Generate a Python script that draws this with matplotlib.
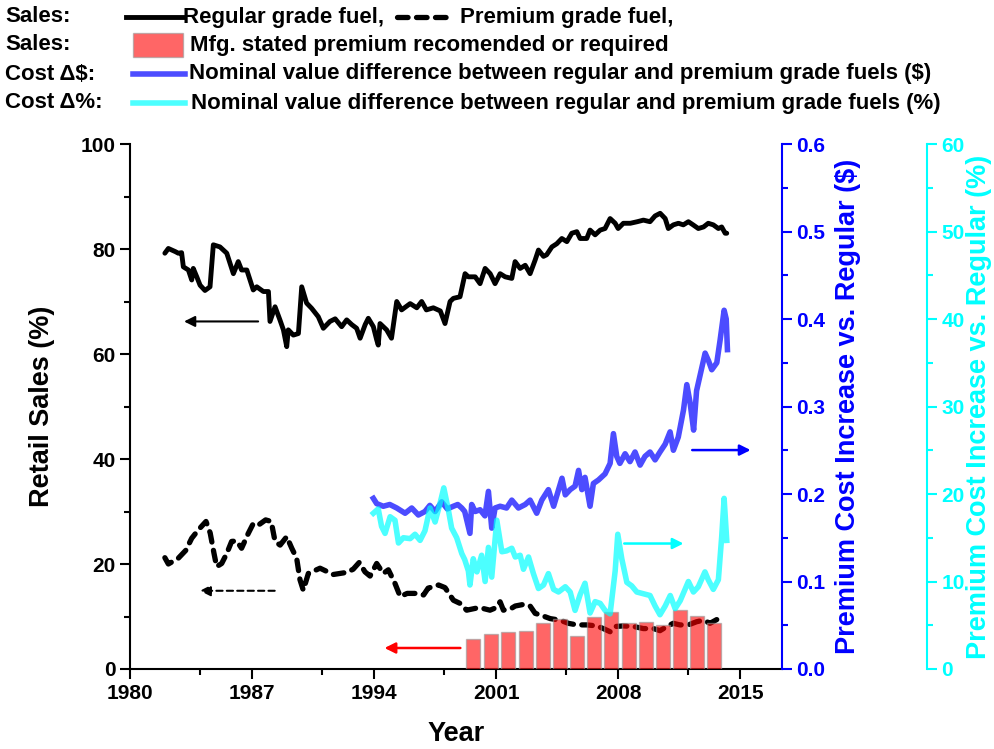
import matplotlib
matplotlib.use("Agg")
import matplotlib.pyplot as plt
from matplotlib.lines import Line2D
from matplotlib.patches import Rectangle

plt.rcParams['font.family'] = ['Liberation Sans', 'DejaVu Sans']
plt.rcParams['font.weight'] = 'bold'

# ---------------- data ----------------
regular_sales = [
    (1982.0, 79.2), (1982.2, 80.1), (1982.6, 79.5), (1982.77, 79.2), (1982.96, 79.3),
    (1983.06, 76.6), (1983.35, 76.0), (1983.54, 74.1), (1983.63, 76.3), (1983.83, 74.7),
    (1984.02, 73.1), (1984.3, 72.1), (1984.59, 72.8), (1984.78, 80.8), (1985.16, 80.4),
    (1985.55, 79.2), (1985.93, 75.3), (1986.21, 77.6), (1986.4, 76.0), (1986.7, 76.0),
    (1987.07, 72.2), (1987.27, 72.8), (1987.65, 71.9), (1987.94, 71.9), (1988.03, 66.2),
    (1988.32, 69.0), (1988.6, 66.5), (1988.8, 64.6), (1988.99, 61.4), (1989.08, 64.6),
    (1989.37, 63.6), (1989.66, 63.9), (1989.85, 72.8), (1990.13, 69.7), (1990.42, 68.7),
    (1990.8, 67.1), (1991.09, 64.9), (1991.47, 66.2), (1991.77, 66.7), (1992.14, 65.2),
    (1992.43, 66.5), (1992.72, 65.6), (1993.0, 64.9), (1993.2, 63.0), (1993.49, 65.6),
    (1993.67, 66.8), (1993.96, 65.2), (1994.15, 62.7), (1994.24, 61.7), (1994.34, 65.8),
    (1994.72, 64.6), (1995.0, 63.0), (1995.3, 70.0), (1995.58, 68.4), (1996.07, 69.6),
    (1996.45, 68.8), (1996.73, 70.0), (1997.0, 68.4), (1997.4, 68.8), (1997.8, 68.2),
    (1998.07, 65.8), (1998.36, 70.0), (1998.55, 70.6), (1998.93, 70.9), (1999.22, 75.3),
    (1999.41, 74.7), (1999.8, 74.7), (2000.08, 73.4), (2000.37, 76.3), (2000.66, 75.3),
    (2000.94, 73.4), (2001.23, 75.3), (2001.52, 74.7), (2001.9, 74.4), (2002.09, 77.6),
    (2002.38, 76.3), (2002.67, 76.9), (2002.95, 75.3), (2003.24, 77.9), (2003.43, 79.8),
    (2003.72, 78.6), (2003.9, 78.9), (2004.2, 80.4), (2004.48, 81.0), (2004.77, 82.0),
    (2005.06, 81.4), (2005.34, 83.0), (2005.63, 83.3), (2005.82, 82.0), (2006.2, 82.0),
    (2006.39, 83.6), (2006.68, 82.7), (2006.97, 83.6), (2007.25, 83.9), (2007.54, 85.8),
    (2007.83, 84.9), (2008.0, 83.9), (2008.3, 84.9), (2008.7, 84.9), (2009.1, 85.2),
    (2009.45, 85.5), (2009.83, 85.2), (2010.12, 86.3), (2010.41, 86.8), (2010.7, 85.8),
    (2010.88, 83.9), (2011.17, 84.6), (2011.46, 84.9), (2011.74, 84.6), (2012.03, 85.2),
    (2012.3, 84.6), (2012.6, 83.9), (2012.9, 84.2), (2013.17, 84.9), (2013.46, 84.6),
    (2013.75, 83.9), (2013.94, 84.2), (2014.14, 83.0), (2014.23, 83.0),
]

premium_sales = [
    (1982.0, 21.2), (1982.2, 20.0), (1982.77, 21.1), (1983.2, 22.6), (1983.54, 24.9),
    (1983.92, 26.5), (1984.36, 28.1), (1984.6, 25.9), (1984.82, 22.0), (1984.97, 19.5),
    (1985.26, 20.1), (1985.55, 22.0), (1985.83, 24.3), (1986.12, 24.4), (1986.4, 23.0),
    (1986.78, 25.8), (1987.07, 27.7), (1987.36, 27.4), (1987.78, 28.4), (1988.1, 28.1),
    (1988.32, 24.3), (1988.61, 23.6), (1988.99, 25.2), (1989.28, 23.0), (1989.56, 21.1),
    (1989.75, 17.0), (1989.94, 15.0), (1990.23, 18.2), (1990.9, 19.2), (1991.66, 18.0),
    (1992.43, 18.4), (1992.8, 19.0), (1993.15, 20.3), (1993.48, 18.5), (1993.77, 17.7),
    (1994.15, 20.1), (1994.53, 18.2), (1994.82, 18.9), (1995.2, 16.3), (1995.5, 13.8),
    (1995.9, 14.4), (1996.35, 14.4), (1996.84, 14.1), (1997.1, 15.4), (1997.7, 16.0),
    (1998.07, 15.5), (1998.55, 13.1), (1998.93, 12.5), (1999.31, 11.2), (1999.88, 11.6),
    (2000.17, 11.6), (2000.65, 11.2), (2000.94, 11.6), (2001.23, 12.8), (2001.42, 11.2),
    (2001.9, 11.6), (2002.1, 12.0), (2002.57, 12.3), (2002.95, 12.0), (2003.24, 10.6),
    (2003.53, 10.3), (2004.1, 9.6), (2004.67, 9.3), (2005.15, 8.7), (2005.63, 8.4),
    (2006.2, 8.4), (2006.78, 8.2), (2007.15, 7.7), (2007.54, 7.1), (2007.83, 8.1),
    (2008.3, 8.2), (2008.88, 8.1), (2009.45, 7.7), (2010.03, 7.7), (2010.4, 7.3),
    (2010.8, 8.1), (2011.16, 8.7), (2011.55, 8.4), (2012.03, 8.4), (2012.5, 9.0),
    (2012.9, 9.3), (2013.27, 8.7), (2013.65, 9.4), (2013.94, 9.8),
]

bar_years = [1999.7, 2000.7, 2001.7, 2002.7, 2003.7, 2004.65, 2005.65, 2006.6,
             2007.6, 2008.6, 2009.6, 2010.55, 2011.55, 2012.55, 2013.5]
bar_values = [5.8, 6.7, 7.1, 7.2, 8.8, 9.6, 6.2, 10.0, 10.8, 8.7, 8.9, 8.4, 11.3, 10.1, 8.8]

cost_diff_dollar = [
    (1993.96, 0.195), (1994.15, 0.189), (1994.53, 0.186), (1994.9, 0.188), (1995.3, 0.184),
    (1995.78, 0.178), (1996.16, 0.184), (1996.54, 0.176), (1996.92, 0.180), (1997.2, 0.187),
    (1997.5, 0.180), (1997.88, 0.191), (1998.2, 0.183), (1998.55, 0.186), (1998.8, 0.188),
    (1999.03, 0.184), (1999.2, 0.180), (1999.5, 0.155), (1999.6, 0.188), (1999.8, 0.180),
    (2000.08, 0.182), (2000.36, 0.175), (2000.56, 0.203), (2000.75, 0.161), (2000.94, 0.184),
    (2001.23, 0.186), (2001.6, 0.184), (2001.9, 0.193), (2002.28, 0.184), (2002.67, 0.188),
    (2002.95, 0.193), (2003.33, 0.178), (2003.62, 0.193), (2004.0, 0.205), (2004.3, 0.186),
    (2004.78, 0.218), (2004.97, 0.199), (2005.25, 0.205), (2005.53, 0.209), (2005.73, 0.227),
    (2005.92, 0.205), (2006.1, 0.219), (2006.39, 0.186), (2006.58, 0.212), (2006.87, 0.216),
    (2007.25, 0.223), (2007.54, 0.235), (2007.73, 0.269), (2007.92, 0.243), (2008.1, 0.235),
    (2008.4, 0.246), (2008.68, 0.237), (2008.97, 0.248), (2009.26, 0.233), (2009.54, 0.243),
    (2009.83, 0.248), (2010.12, 0.239), (2010.4, 0.248), (2010.7, 0.257), (2010.98, 0.271),
    (2011.17, 0.250), (2011.45, 0.265), (2011.75, 0.296), (2011.94, 0.325), (2012.13, 0.304),
    (2012.33, 0.273), (2012.5, 0.318), (2012.99, 0.361), (2013.19, 0.352), (2013.37, 0.342),
    (2013.66, 0.350), (2013.85, 0.376), (2014.08, 0.410), (2014.2, 0.400), (2014.27, 0.365),
]

cost_diff_pct = [
    (1993.96, 17.8), (1994.24, 18.3), (1994.43, 16.3), (1994.63, 15.5), (1994.92, 17.4),
    (1995.2, 17.0), (1995.4, 14.4), (1995.68, 15.0), (1996.07, 14.9), (1996.35, 15.4),
    (1996.64, 14.7), (1996.92, 15.8), (1997.21, 18.4), (1997.5, 16.8), (1997.78, 18.9),
    (1998.0, 20.7), (1998.26, 18.2), (1998.45, 16.1), (1998.74, 15.0), (1999.03, 13.2),
    (1999.2, 12.5), (1999.41, 11.2), (1999.5, 9.6), (1999.69, 12.6), (1999.9, 11.1),
    (2000.17, 13.0), (2000.37, 10.0), (2000.56, 13.9), (2000.75, 10.5), (2001.04, 17.0),
    (2001.33, 13.4), (2001.6, 13.5), (2001.9, 13.8), (2002.1, 12.8), (2002.38, 13.0),
    (2002.57, 11.4), (2002.86, 12.8), (2003.14, 10.9), (2003.43, 9.2), (2003.72, 9.6),
    (2004.0, 10.9), (2004.3, 9.1), (2004.58, 8.8), (2004.97, 9.4), (2005.25, 8.8),
    (2005.53, 6.7), (2005.82, 8.5), (2006.1, 9.8), (2006.39, 6.4), (2006.68, 7.7),
    (2006.97, 7.5), (2007.25, 6.7), (2007.54, 6.3), (2007.83, 11.2), (2007.98, 15.4),
    (2008.21, 12.6), (2008.5, 9.9), (2008.78, 9.5), (2009.07, 8.8), (2009.45, 8.6),
    (2009.83, 8.4), (2010.12, 7.2), (2010.4, 6.2), (2010.7, 7.2), (2010.99, 8.4),
    (2011.27, 6.9), (2011.56, 7.8), (2012.03, 10.0), (2012.32, 8.8), (2012.6, 9.4),
    (2012.98, 11.1), (2013.17, 10.2), (2013.46, 9.1), (2013.75, 10.2), (2013.94, 15.1),
    (2014.08, 19.5), (2014.23, 14.7),
]

x_ticks = [1980, 1987, 1994, 2001, 2008, 2015]
x_minor = [1984, 1991, 1998, 2005, 2012]

# ---------------- figure ----------------
W, H = 994, 749
fig = plt.figure(figsize=(W / 100, H / 100), dpi=100)
L, R, T, B = 130, 782, 144, 669
ax = fig.add_axes([L / W, 1 - B / H, (R - L) / W, (B - T) / H])
ax2 = ax.twinx()
ax3 = ax.twinx()

BLUE = '#0000FF'
CYAN = '#00FFFF'
LABEL_FS = 19.5
TICK_FS = 15

def unzip(pairs):
    return [p[0] for p in pairs], [p[1] for p in pairs]

rx, ry = unzip(regular_sales)
px, py = unzip(premium_sales)
bx, by = unzip(cost_diff_dollar)
cx, cy = unzip(cost_diff_pct)

ax.plot(rx, ry, color='black', lw=3.5, zorder=3, solid_joinstyle='round',
        solid_capstyle='round')
ax.plot(px, py, color='black', lw=3.8, dashes=[2.0, 1.6], dash_capstyle='round', zorder=2)
ax.bar(bar_years, bar_values, width=0.8, color='red', alpha=0.6,
       edgecolor='#999999', linewidth=1.0, zorder=4)

ax2.plot(bx, by, color=BLUE, alpha=0.7, lw=4.0, solid_joinstyle='round')
ax3.plot(cx, cy, color=CYAN, alpha=0.7, lw=4.0, solid_joinstyle='round')

ax.set_xlim(1980, 2017.4)
ax.set_ylim(0, 100)
ax2.set_ylim(0, 0.6)
ax3.set_ylim(0, 60)

ax.set_xticks(x_ticks)
ax.set_xticks(x_minor, minor=True)
ax.set_yticks([0, 20, 40, 60, 80, 100])
ax.set_yticks([10, 30, 50, 70, 90], minor=True)
ax2.set_yticks([0.0, 0.1, 0.2, 0.3, 0.4, 0.5, 0.6])
ax2.set_yticklabels(['0.0', '0.1', '0.2', '0.3', '0.4', '0.5', '0.6'])
ax2.set_yticks([0.05, 0.15, 0.25, 0.35, 0.45, 0.55], minor=True)
ax3.set_yticks([0, 10, 20, 30, 40, 50, 60])
ax3.set_yticks([5, 15, 25, 35, 45, 55], minor=True)

for a in (ax, ax2, ax3):
    a.tick_params(which='major', direction='out', length=7, width=1.5, labelsize=TICK_FS)
    a.tick_params(which='minor', direction='out', length=4, width=1.5)
    for s in a.spines.values():
        s.set_linewidth(1.5)

ax.spines['top'].set_visible(False)
ax.spines['right'].set_visible(False)
for a in (ax2, ax3):
    a.spines['top'].set_visible(False)
    a.spines['left'].set_visible(False)
    a.spines['bottom'].set_visible(False)

ax2.spines['right'].set_color(BLUE)
ax2.tick_params(which='both', axis='y', colors=BLUE)
ax3.spines['right'].set_position(('axes', 1 + 145 / (R - L)))
ax3.spines['right'].set_color(CYAN)
ax3.tick_params(which='both', axis='y', colors=CYAN)

for lab in ax.get_xticklabels() + ax.get_yticklabels() + ax2.get_yticklabels() + ax3.get_yticklabels():
    lab.set_fontweight('bold')

ax.set_xlabel('Year', fontsize=LABEL_FS, fontweight='bold', labelpad=13)
ax.set_ylabel('Retail Sales (%)', fontsize=LABEL_FS, fontweight='bold', labelpad=18)
ax2.set_ylabel('Premium Cost Increase vs. Regular ($)', fontsize=LABEL_FS, fontweight='bold',
               color=BLUE, labelpad=7)
ax3.set_ylabel('Premium Cost Increase vs. Regular (%)', fontsize=LABEL_FS, fontweight='bold',
               color=CYAN, labelpad=1)

# arrows pointing to the relevant axis
arrow_kw = dict(arrowstyle='-|>', mutation_scale=16, shrinkA=0, shrinkB=0)
ax.annotate('', xy=(1983.1, 66.2), xytext=(1987.35, 66.2),
            arrowprops=dict(color='black', lw=1.5, **arrow_kw))
ax.annotate('', xy=(1984.0, 14.9), xytext=(1988.3, 14.9),
            arrowprops=dict(color='black', lw=1.5, linestyle=(0, (3, 2)), **arrow_kw))
ax.annotate('', xy=(1994.6, 4.0), xytext=(1998.95, 4.0),
            arrowprops=dict(color='red', lw=1.8, **arrow_kw))
ax.annotate('', xy=(2015.6, 41.7), xytext=(2012.25, 41.7),
            arrowprops=dict(color=BLUE, lw=1.8, **arrow_kw))
ax.annotate('', xy=(2011.75, 23.9), xytext=(2008.35, 23.9),
            arrowprops=dict(color=CYAN, lw=1.8, **arrow_kw))

# ---------------- legend block at top ----------------
def fx(x):
    return x / W

def fy(y):
    return 1 - y / H

LEG_FS = 16
rows = [17, 45, 74, 103]
for y, lab in zip(rows, ['Sales:', 'Sales:', 'Cost \u0394$:', 'Cost \u0394%:']):
    fig.text(fx(5), fy(y), lab, fontsize=LEG_FS, fontweight='bold', va='center', ha='left')

fig.add_artist(Line2D([fx(126), fx(183)], [fy(17), fy(17)], color='black', lw=3.5))
fig.text(fx(183), fy(17), 'Regular grade fuel,', fontsize=LEG_FS, fontweight='bold', va='center')
fig.add_artist(Line2D([fx(397), fx(452)], [fy(17), fy(17)], color='black', lw=3.8,
                      dashes=[2.0, 1.6], dash_capstyle='round'))
fig.text(fx(460), fy(17), 'Premium grade fuel,', fontsize=LEG_FS, fontweight='bold', va='center')

fig.add_artist(Rectangle((fx(133), fy(57)), fx(183) - fx(133), fy(33) - fy(57),
                         transform=fig.transFigure, facecolor='red', alpha=0.6,
                         edgecolor='#999999', lw=1.0))
fig.text(fx(190), fy(45), 'Mfg. stated premium recomended or required', fontsize=LEG_FS,
         fontweight='bold', va='center')

fig.add_artist(Line2D([fx(133), fx(185)], [fy(74), fy(74)], color=BLUE, alpha=0.7, lw=4.0))
fig.text(fx(189), fy(74), 'Nominal value difference between regular and premium grade fuels ($)',
         fontsize=LEG_FS, fontweight='bold', va='center')
fig.add_artist(Line2D([fx(133), fx(185)], [fy(103), fy(103)], color=CYAN, alpha=0.7, lw=4.0))
fig.text(fx(191), fy(103), 'Nominal value difference between regular and premium grade fuels (%)',
         fontsize=LEG_FS, fontweight='bold', va='center')

fig.savefig('out.png', dpi=100)
